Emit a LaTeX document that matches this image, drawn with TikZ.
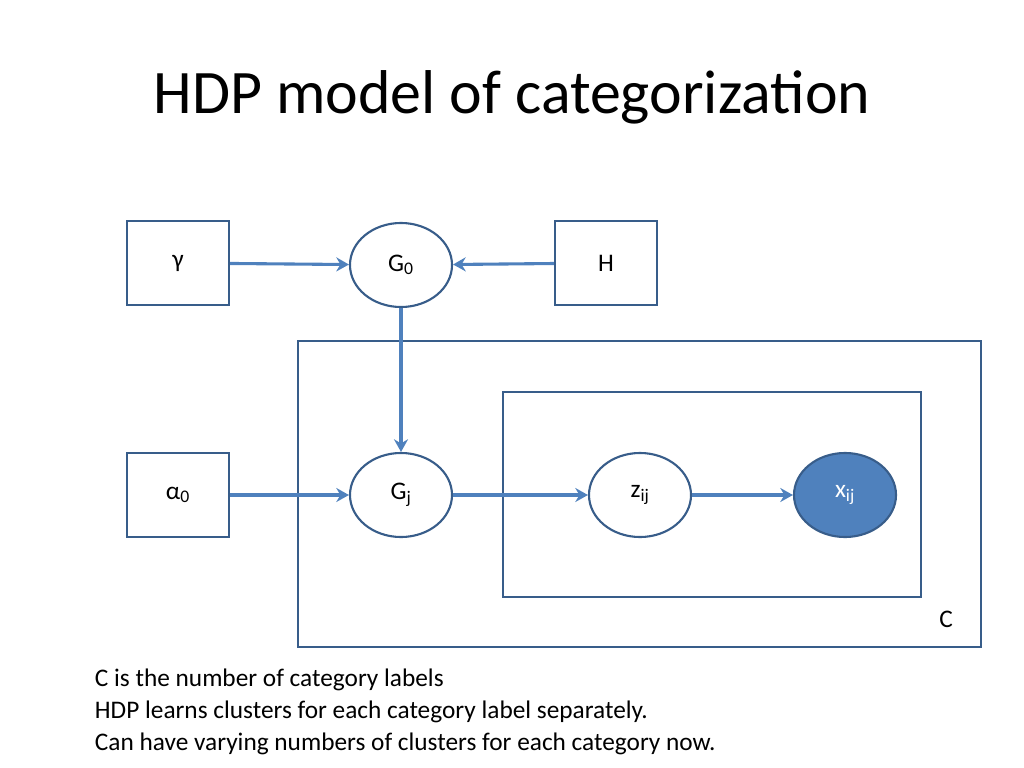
\documentclass[tikz,border=0pt]{standalone}
\usepackage{fontspec}
\setmainfont{Carlito}
\usetikzlibrary{positioning,arrows.meta}
\definecolor{accent}{HTML}{4F81BD}
\definecolor{edge}{HTML}{385D8A}
\tikzset{
  param/.style={draw=edge,line width=1.5pt,minimum width=2.55cm,minimum height=2.1cm,font=\fontsize{18}{20}\selectfont},
  rv/.style={ellipse,draw=edge,line width=1.5pt,minimum width=2.55cm,minimum height=2.1cm,font=\fontsize{18}{20}\selectfont},
  obs/.style={rv,fill=accent,text=white},
  link/.style={draw=accent,line width=2.2pt,-{Stealth[length=9pt,width=10pt]}},
  plate/.style={draw=edge,line width=1.5pt}
}
\usetikzlibrary{shapes.geometric}
\begin{document}
\begin{tikzpicture}[x=0.025cm,y=-0.025cm]
\useasboundingbox (0,0) rectangle (1024,768);
\node[font=\fontsize{44}{48}\selectfont] (title) at (512,97) {HDP model of categorization};
% plates
\draw[plate] (298,341) rectangle (981,647);
\draw[plate] (503,392) rectangle (921,597);
\node[font=\fontsize{18}{20}\selectfont] (clabel) at (946,619) {C};
% top row
\node[param] (gamma) at (178,263) {γ};
\node[rv] (G0) at (401,265) {G\textsubscript{0}};
\node[param] (H) at (606,263) {H};
% bottom row
\node[param] (alpha) at (178,495) {α\textsubscript{0}};
\node[rv] (Gj) at (401,495) {G\textsubscript{j}};
\node[rv] (z) at (640,495) {z\textsubscript{ij}};
\node[obs] (x) at (845,495) {x\textsubscript{ij}};
\draw[link] (gamma) -- (G0);
\draw[link] (H) -- (G0);
\draw[link] (G0) -- (Gj);
\draw[link] (alpha) -- (Gj);
\draw[link] (Gj) -- (z);
\draw[link] (z) -- (x);
% caption
\node[anchor=north west,align=left,font=\fontsize{18}{22.6}\selectfont] (note) at (90,664)
  {C is the number of category labels\\HDP learns clusters for each category label separately.\\Can have varying numbers of clusters for each category now.};
\end{tikzpicture}
\end{document}
